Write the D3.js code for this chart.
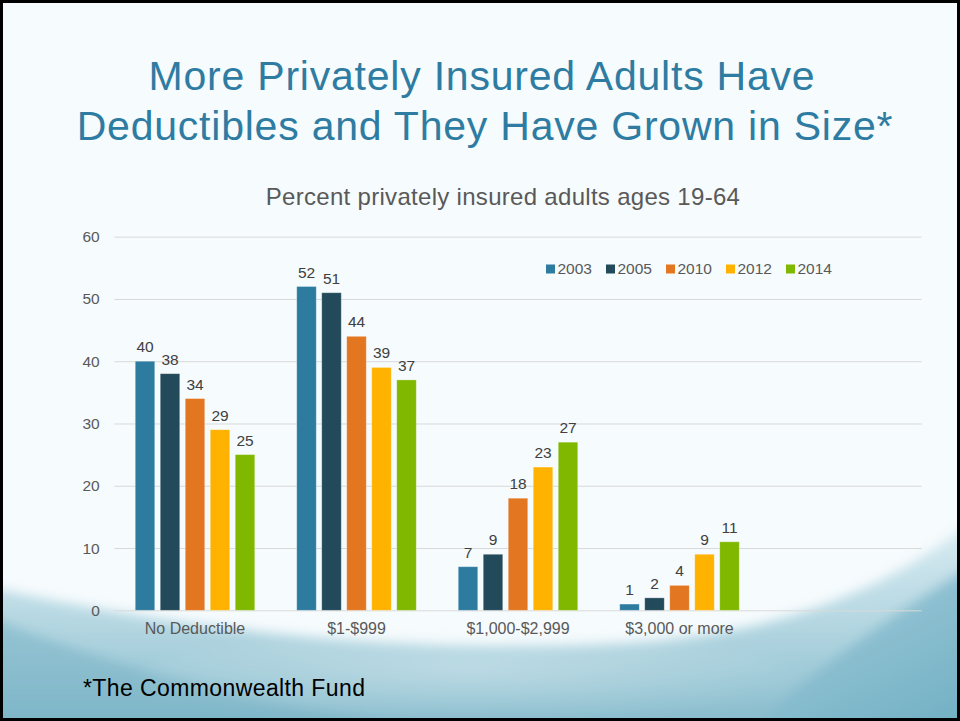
<!DOCTYPE html>
<html>
<head>
<meta charset="utf-8">
<script src="https://cdn.jsdelivr.net/npm/d3@7"></script>
<style>
  html, body { margin: 0; padding: 0; background: #fff; }
  svg { display: block; font-family: "Liberation Sans", Arial, sans-serif; }
</style>
</head>
<body>
<script>
// data
var categories = ["No Deductible", "$1-$999", "$1,000-$2,999", "$3,000 or more", ""];
var years = ["2003", "2005", "2010", "2012", "2014"];
var values2003 = [40, 52, 7, 1];
var values2005 = [38, 51, 9, 2];
var values2010 = [34, 44, 18, 4];
var values2012 = [29, 39, 23, 9];
var values2014 = [25, 37, 27, 11];
var yTicks = [0, 10, 20, 30, 40, 50, 60];
var colors = ["#2e7ba0", "#234a5a", "#e37620", "#ffb300", "#80b800"];

var series = [values2003, values2005, values2010, values2012, values2014];

var W = 960, H = 721;
var svg = d3.select("body").append("svg")
  .attr("width", W)
  .attr("height", H);

var defs = svg.append("defs");
var g1 = defs.append("linearGradient").attr("id", "swoosh1")
  .attr("x1", 0).attr("y1", 0).attr("x2", 0).attr("y2", 1);
g1.append("stop").attr("offset", "0%").attr("stop-color", "#dbedf3");
g1.append("stop").attr("offset", "50%").attr("stop-color", "#b3d6e1");
g1.append("stop").attr("offset", "100%").attr("stop-color", "#80b7c9");
var g2 = defs.append("linearGradient").attr("id", "swoosh2")
  .attr("x1", 0).attr("y1", 0).attr("x2", 1).attr("y2", 1);
g2.append("stop").attr("offset", "0%").attr("stop-color", "#9fcbda");
g2.append("stop").attr("offset", "100%").attr("stop-color", "#6aabc0");
var g3 = defs.append("radialGradient").attr("id", "glow")
  .attr("cx", 0.5).attr("cy", 0.4).attr("r", 0.55);
g3.append("stop").attr("offset", "0%").attr("stop-color", "#eef7fa").attr("stop-opacity", 0.35);
g3.append("stop").attr("offset", "100%").attr("stop-color", "#eef7fa").attr("stop-opacity", 0);
defs.append("filter").attr("id", "soft")
  .attr("x", "-10%").attr("y", "-10%").attr("width", "120%").attr("height", "120%")
  .append("feGaussianBlur").attr("stdDeviation", 6);

// slide background
svg.append("rect").attr("width", W).attr("height", H).attr("fill", "#f6fbfd");
var bg = svg.append("g").attr("filter", "url(#soft)");
bg.append("path")
  .attr("d", "M-20,585 C200,635 430,655 640,642 C780,632 890,590 980,515 L980,740 L-20,740 Z")
  .attr("fill", "url(#swoosh1)");
bg.append("path")
  .attr("d", "M-20,612 C150,685 380,730 560,740 L-20,740 Z")
  .attr("fill", "#74afc3").attr("opacity", 0.5);
bg.append("path")
  .attr("d", "M980,560 C890,615 810,670 740,740 L980,740 Z")
  .attr("fill", "url(#swoosh2)").attr("opacity", 0.85);
bg.append("ellipse")
  .attr("cx", 470).attr("cy", 680).attr("rx", 330).attr("ry", 50)
  .attr("fill", "url(#glow)");

// title
var title = svg.append("text")
  .attr("text-anchor", "middle")
  .attr("fill", "#2f7ca2")
  .attr("font-size", 41)
  .attr("letter-spacing", 0.78);
title.append("tspan").attr("x", 482).attr("y", 89.5).text("More Privately Insured Adults Have");
title.append("tspan").attr("x", 485).attr("y", 140).text("Deductibles and They Have Grown in Size*");

svg.append("text")
  .attr("x", 503).attr("y", 205)
  .attr("text-anchor", "middle")
  .attr("fill", "#595959")
  .attr("font-size", 24)
  .attr("letter-spacing", 0.3)
  .text("Percent privately insured adults ages 19-64");

// scales
var x0 = d3.scaleBand().domain(categories).range([114.25, 921.75]);
var x1 = d3.scaleBand().domain(years).range([21, 140.5]).paddingInner(0.22);
var y = d3.scaleLinear().domain([0, 60]).range([610.3, 236.7]);

// gridlines + y labels
var yAxis = svg.append("g")
  .attr("transform", "translate(114.25,0)")
  .call(d3.axisLeft(y).tickValues(yTicks).tickSize(-(921.75 - 114.25)).tickPadding(14.5));
yAxis.select(".domain").remove();
yAxis.selectAll(".tick line").attr("stroke", "#d9d9d9");
yAxis.selectAll(".tick text")
  .attr("fill", "#595959")
  .attr("font-size", 15.5)
  .attr("font-family", "Liberation Sans, Arial, sans-serif");

// x labels
var xAxis = svg.append("g")
  .attr("transform", "translate(0,610.3)")
  .call(d3.axisBottom(x0).tickSize(0).tickPadding(12));
xAxis.select(".domain").remove();
xAxis.selectAll(".tick text")
  .attr("fill", "#595959")
  .attr("font-size", 16)
  .attr("font-family", "Liberation Sans, Arial, sans-serif");

// bars
var groups = svg.selectAll("g.series").data(series).enter().append("g")
  .attr("class", "series")
  .attr("fill", function(d, i) { return colors[i]; });

groups.each(function(vals, si) {
  var g = d3.select(this);
  g.selectAll("rect").data(vals).enter().append("rect")
    .attr("x", function(d, ci) { return x0(categories[ci]) + x1(years[si]); })
    .attr("y", function(d) { return y(d); })
    .attr("width", x1.bandwidth())
    .attr("height", function(d) { return y(0) - y(d); })
    .attr("stroke", "#ffffff").attr("stroke-opacity", 0.35).attr("stroke-width", 0.8);
  g.selectAll("text").data(vals).enter().append("text")
    .attr("x", function(d, ci) { return x0(categories[ci]) + x1(years[si]) + x1.bandwidth() / 2; })
    .attr("y", function(d) { return y(d) - 9; })
    .attr("text-anchor", "middle")
    .attr("fill", "#404040")
    .attr("font-size", 15.5)
    .text(function(d) { return d; });
});

// legend
var legend = svg.selectAll("g.legend").data(years).enter().append("g")
  .attr("class", "legend")
  .attr("transform", function(d, i) { return "translate(" + (546 + i * 60) + ",264.5)"; });
legend.append("rect")
  .attr("width", 9).attr("height", 9)
  .attr("fill", function(d, i) { return colors[i]; });
legend.append("text")
  .attr("x", 11.5).attr("y", 9.5)
  .attr("fill", "#595959")
  .attr("font-size", 15.5)
  .text(function(d) { return d; });

// footnote
svg.append("text")
  .attr("x", 83).attr("y", 696)
  .attr("fill", "#000")
  .attr("font-size", 23)
  .attr("letter-spacing", 0.4)
  .text("*The Commonwealth Fund");

// slide frame
svg.append("rect")
  .attr("x", 1.5).attr("y", 1.5).attr("width", W - 3).attr("height", H - 3)
  .attr("fill", "none").attr("stroke", "#000").attr("stroke-width", 3);
</script>
</body>
</html>
